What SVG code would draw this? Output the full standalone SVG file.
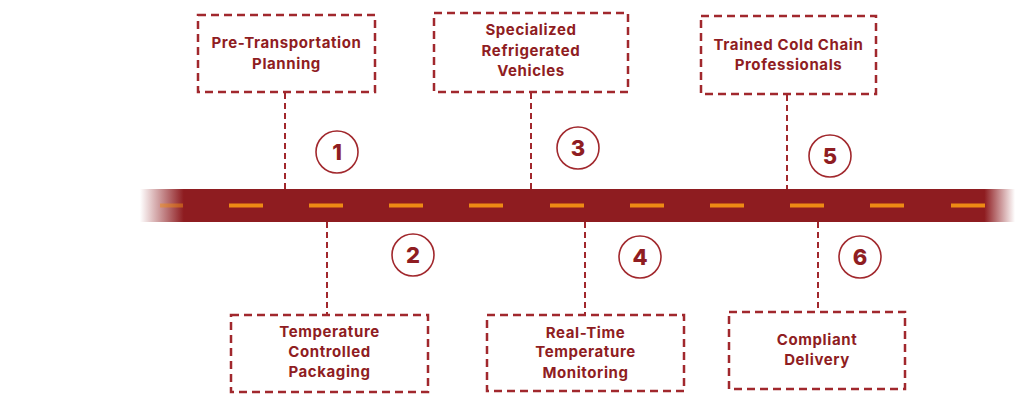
<svg xmlns="http://www.w3.org/2000/svg" width="1024" height="409" viewBox="0 0 1024 409">
<style>
.box{fill:none;stroke:#a1282d;stroke-width:2.5;stroke-dasharray:8 5}
.conn{stroke:#a1282d;stroke-width:2;stroke-dasharray:6 4;fill:none}
.lbl{font-family:Inter,"Noto Sans",sans-serif;font-weight:700;font-size:15px;letter-spacing:0.6px;fill:#8f1d22;text-anchor:middle}
.circ{fill:#fff;stroke:#a1282d;stroke-width:1.6}
.num{font-family:Inter,"Noto Sans",sans-serif;font-weight:800;font-size:22px;fill:#8f1d22;text-anchor:middle}
.dash{stroke:#ee8a14;stroke-width:4}
</style>
<defs>
<linearGradient id="road" x1="140" y1="0" x2="1015" y2="0" gradientUnits="userSpaceOnUse">
<stop offset="0" stop-color="#8e1c20" stop-opacity="0"/>
<stop offset="0.05" stop-color="#8e1c20" stop-opacity="1"/>
<stop offset="0.965" stop-color="#8e1c20" stop-opacity="1"/>
<stop offset="1" stop-color="#8e1c20" stop-opacity="0"/>
</linearGradient>
</defs>
<g id="road-bar">
<rect x="140" y="189" width="875" height="33" fill="url(#road)"/>
<g class="dash">
<line x1="160" y1="205.5" x2="183" y2="205.5" opacity="0.5"/>
<line x1="229" y1="205.5" x2="263" y2="205.5"/>
<line x1="309" y1="205.5" x2="343" y2="205.5"/>
<line x1="389" y1="205.5" x2="423" y2="205.5"/>
<line x1="469" y1="205.5" x2="503" y2="205.5"/>
<line x1="550" y1="205.5" x2="584" y2="205.5"/>
<line x1="630" y1="205.5" x2="664" y2="205.5"/>
<line x1="710" y1="205.5" x2="744" y2="205.5"/>
<line x1="790" y1="205.5" x2="824" y2="205.5"/>
<line x1="870" y1="205.5" x2="904" y2="205.5"/>
<line x1="951" y1="205.5" x2="985" y2="205.5"/>
</g>
</g>
<g id="connectors">
<line class="conn" x1="285" y1="93" x2="285" y2="189"/>
<line class="conn" x1="327" y1="222" x2="327" y2="315"/>
<line class="conn" x1="531" y1="93" x2="531" y2="189"/>
<line class="conn" x1="585" y1="222" x2="585" y2="315"/>
<line class="conn" x1="787" y1="95" x2="787" y2="189"/>
<line class="conn" x1="818" y1="222" x2="818" y2="312"/>
</g>
<g id="node1">
<rect class="box" x="198" y="15" width="177" height="77"/>
<text class="lbl" x="286.5" y="48">Pre-Transportation</text>
<text class="lbl" x="286.5" y="69">Planning</text>
<circle class="circ" cx="337" cy="152" r="21"/>
<text class="num" x="337" y="160">1</text>
</g>
<g id="node2">
<rect class="box" x="231" y="315" width="197" height="77"/>
<text class="lbl" x="329.5" y="337">Temperature</text>
<text class="lbl" x="329.5" y="357">Controlled</text>
<text class="lbl" x="329.5" y="377">Packaging</text>
<circle class="circ" cx="413" cy="255" r="21"/>
<text class="num" x="413" y="263">2</text>
</g>
<g id="node3">
<rect class="box" x="434" y="13" width="194" height="79"/>
<text class="lbl" x="531" y="35">Specialized</text>
<text class="lbl" x="531" y="56">Refrigerated</text>
<text class="lbl" x="531" y="76">Vehicles</text>
<circle class="circ" cx="578" cy="148" r="21"/>
<text class="num" x="578" y="156">3</text>
</g>
<g id="node4">
<rect class="box" x="487" y="315" width="197" height="76"/>
<text class="lbl" x="585.5" y="338">Real-Time</text>
<text class="lbl" x="585.5" y="357">Temperature</text>
<text class="lbl" x="585.5" y="378">Monitoring</text>
<circle class="circ" cx="640" cy="257" r="21"/>
<text class="num" x="640" y="265">4</text>
</g>
<g id="node5">
<rect class="box" x="701" y="16" width="175" height="78"/>
<text class="lbl" x="788.5" y="50">Trained Cold Chain</text>
<text class="lbl" x="788.5" y="70">Professionals</text>
<circle class="circ" cx="830" cy="156" r="21"/>
<text class="num" x="830" y="164">5</text>
</g>
<g id="node6">
<rect class="box" x="729" y="312" width="176" height="77"/>
<text class="lbl" x="817" y="345">Compliant</text>
<text class="lbl" x="817" y="365">Delivery</text>
<circle class="circ" cx="860" cy="257" r="21"/>
<text class="num" x="860" y="265">6</text>
</g>
</svg>
